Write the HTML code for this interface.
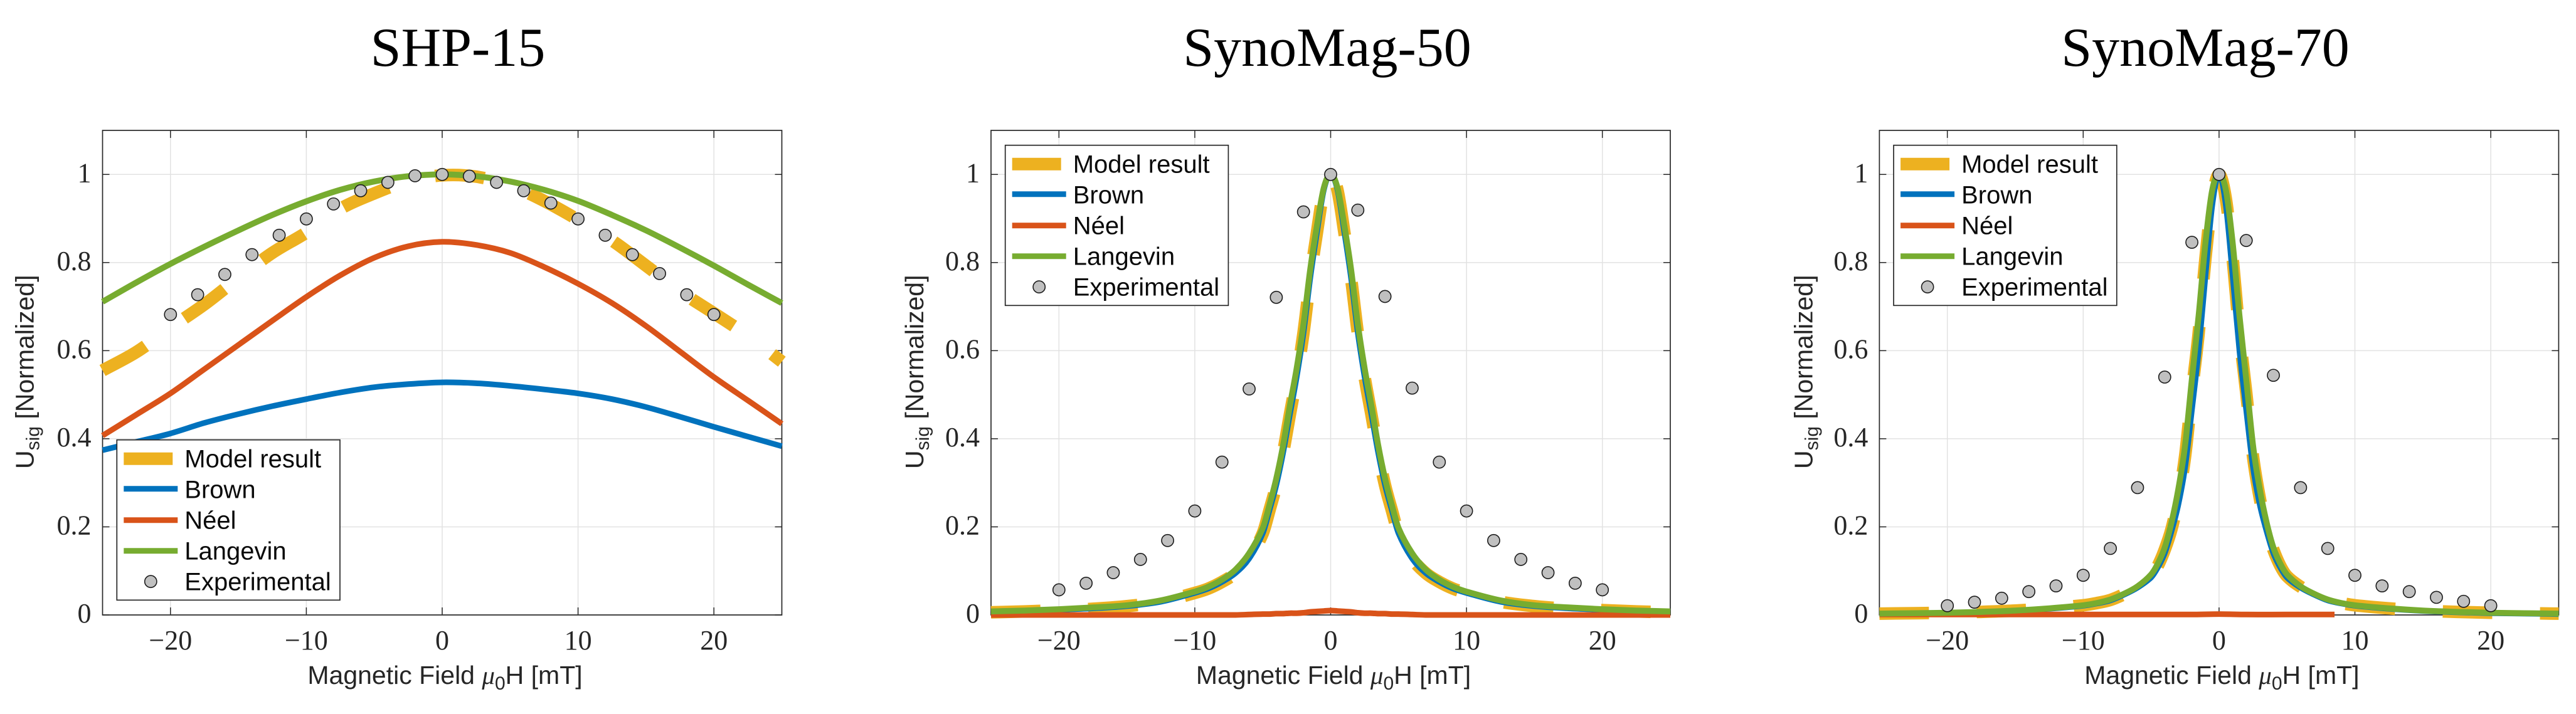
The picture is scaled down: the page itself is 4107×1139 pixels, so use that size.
<!DOCTYPE html>
<html lang="en">
<head>
<meta charset="utf-8">
<title>Normalized signal vs magnetic field: SHP-15, SynoMag-50, SynoMag-70</title>
<style>
  html, body { margin: 0; padding: 0; background: #fff; }
  svg { display: block; }
  .sans { font-family: "Liberation Sans", sans-serif; }
  .serif { font-family: "Liberation Serif", serif; }
</style>
</head>
<body>
<svg id="figure" xmlns="http://www.w3.org/2000/svg" width="4107" height="1139" viewBox="0 0 4107 1139"></svg>
<script>
// ---------- shared categories and ticks ----------
const xTickValues = [-20, -10, 0, 10, 20];
const xTickLabels = ['\u221220', '\u221210', '0', '10', '20'];
const yTickValues = [0, 0.2, 0.4, 0.6, 0.8, 1];
const yTickLabels = ['0', '0.2', '0.4', '0.6', '0.8', '1'];
const legendLabels = ['Model result', 'Brown', 'N\u00e9el', 'Langevin', 'Experimental'];

const fieldBroad = [-25,-22.5,-20,-17.5,-15,-12.5,-10,-7.5,-5,-2.5,0,2.5,5,7.5,10,12.5,15,17.5,20,22.5,25];
const fieldFine = [-25,-22.5,-20,-17.5,-15,-12.5,-10,-9,-8,-7,-6,-5,-4.5,-4,-3.5,-3,-2.5,-2,-1.5,-1,-0.5,0,0.5,1,1.5,2,2.5,3,3.5,4,4.5,5,6,7,8,9,10,12.5,15,17.5,20,22.5,25];
const fieldExperimental = [-20,-18,-16,-14,-12,-10,-8,-6,-4,-2,0,2,4,6,8,10,12,14,16,18,20];
const fieldNeel70 = [-25,-20,-15,-10,-5,-2,0,2,5,8.5];

// ---------- SHP-15 ----------
const shpModel = [.555,.597,.652,.705,.765,.822,.868,.922,.957,.985,.998,.995,.975,.94,.897,.85,.793,.735,.685,.634,.575];
const shpBrown = [.374,.393,.412,.436,.456,.474,.49,.505,.517,.524,.528,.526,.52,.512,.503,.49,.472,.45,.427,.405,.383];
const shpNeel = [.407,.455,.503,.558,.613,.668,.722,.771,.811,.837,.847,.84,.822,.79,.752,.708,.656,.598,.54,.487,.434];
const shpLangevin = [.711,.755,.797,.836,.873,.908,.939,.965,.984,.996,1,.996,.984,.965,.94,.908,.873,.834,.793,.75,.708];
const shpExperimental = [.682,.727,.773,.818,.862,.899,.933,.963,.982,.997,1,.996,.982,.963,.935,.899,.862,.818,.775,.727,.682];

// ---------- SynoMag-50 ----------
const syn50Model = [.006,.008,.011,.014,.020,.030,.050,.060,.075,.095,.128,.185,.238,.295,.368,.455,.540,.640,.765,.870,.965,1,.965,.870,.765,.640,.540,.455,.368,.295,.238,.185,.128,.095,.075,.060,.050,.030,.020,.014,.011,.008,.006];
const syn50Brown = [.007,.009,.012,.015,.020,.030,.050,.060,.075,.095,.128,.185,.238,.295,.368,.455,.540,.640,.765,.870,.965,1,.965,.870,.765,.640,.540,.455,.368,.295,.238,.185,.128,.095,.075,.060,.050,.030,.020,.015,.012,.009,.007];
const syn50Neel = [0,0,0,0,0,0,0,0,0,0,.001,.002,.002,.003,.003,.004,.004,.005,.007,.008,.009,.010,.009,.008,.007,.005,.004,.004,.003,.003,.002,.002,.001,0,0,0,0,0,0,0,0,0,0];
const syn50Langevin = [.008,.010,.013,.017,.022,.033,.053,.064,.080,.103,.140,.197,.250,.310,.385,.475,.560,.660,.785,.885,.970,1,.970,.885,.785,.660,.560,.475,.385,.310,.250,.197,.140,.103,.080,.064,.053,.033,.022,.017,.013,.010,.008];
const syn50Experimental = [.057,.072,.096,.126,.169,.236,.347,.513,.721,.915,1,.919,.723,.515,.347,.236,.169,.126,.096,.072,.057];

// ---------- SynoMag-70 ----------
const syn70Model = [.003,.004,.005,.007,.010,.015,.022,.027,.034,.047,.064,.088,.112,.148,.195,.265,.360,.505,.640,.810,.945,1,.945,.810,.640,.505,.360,.265,.195,.148,.112,.088,.064,.047,.034,.027,.022,.015,.010,.007,.005,.004,.003];
const syn70Brown = [.002,.003,.004,.006,.009,.014,.021,.026,.033,.046,.062,.085,.108,.140,.190,.250,.335,.465,.600,.770,.930,1,.930,.770,.600,.465,.335,.250,.190,.140,.108,.085,.062,.046,.033,.026,.021,.014,.009,.006,.004,.003,.002];
const syn70Neel = [.001,.001,.001,.001,.001,.001,.002,.001,.001,.001];
const syn70Langevin = [.003,.004,.005,.007,.010,.015,.022,.027,.035,.048,.065,.092,.117,.153,.210,.285,.385,.535,.680,.845,.965,1,.965,.845,.680,.535,.385,.285,.210,.153,.117,.092,.065,.048,.035,.027,.022,.015,.010,.007,.005,.004,.003];
const syn70Experimental = [.021,.029,.038,.053,.066,.090,.151,.289,.540,.846,1,.850,.544,.289,.151,.090,.066,.053,.040,.031,.021];

const SVGNS = 'http://www.w3.org/2000/svg';
const root = document.getElementById('figure');
const AXIS = '#262626', GRID = '#e2e2e2';
const YELLOW = '#EDB120', BLUE = '#0072BD', RED = '#D95319', GREEN = '#77AC30';

function mk(tag, attrs, parent) {
  const node = document.createElementNS(SVGNS, tag);
  for (const k in attrs) node.setAttribute(k, attrs[k]);
  parent.appendChild(node);
  return node;
}

function curvePath(xs, ys) {
  let d = 'M' + xs[0].toFixed(2) + ' ' + ys[0].toFixed(2);
  const n = xs.length;
  const slope = [];
  for (let i = 0; i < n; i++) {
    const a = Math.max(0, i - 1), b = Math.min(n - 1, i + 1);
    slope.push((ys[b] - ys[a]) / (xs[b] - xs[a]));
  }
  for (let i = 0; i < n - 1; i++) {
    const h = (xs[i + 1] - xs[i]) / 3;
    d += 'C' + (xs[i] + h).toFixed(2) + ' ' + (ys[i] + slope[i] * h).toFixed(2) + ' ' +
         (xs[i + 1] - h).toFixed(2) + ' ' + (ys[i + 1] - slope[i + 1] * h).toFixed(2) + ' ' +
         xs[i + 1].toFixed(2) + ' ' + ys[i + 1].toFixed(2);
  }
  return d;
}

function drawPanel(cfg) {
  const g = mk('g', {}, root);
  
  

  const left = cfg.left, width = 1083, top = 208, bottom = 981;
  const xMin = -25, xMax = 25, yMin = 0, yMax = 1.1;
  const xScale = v => left + (v - xMin) / (xMax - xMin) * width;
  const yScale = v => bottom - (v - yMin) / (yMax - yMin) * (bottom - top);

  const title = mk('text', { x: cfg.titleX, y: 105, 'text-anchor': 'middle', 'font-size': 88, fill: '#000', class: 'serif' }, g);
  
  
  title.textContent = cfg.title;

  xTickValues.forEach((v, i) => {
    const line = mk('line', { x1: xScale(v), x2: xScale(v), y1: top, y2: bottom, stroke: GRID, 'stroke-width': 1.5 }, g);
    
    
    const t1 = mk('line', { x1: xScale(v), x2: xScale(v), y1: top, y2: top + 12, stroke: AXIS, 'stroke-width': 1.5 }, g);
    
    
    const t2 = mk('line', { x1: xScale(v), x2: xScale(v), y1: bottom, y2: bottom - 12, stroke: AXIS, 'stroke-width': 1.5 }, g);
    
    
    const lab = mk('text', { x: xScale(v), y: 1036, 'text-anchor': 'middle', 'font-size': 44, fill: AXIS, class: 'serif' }, g);
    
    
    lab.textContent = xTickLabels[i];
  });

  yTickValues.forEach((v, i) => {
    const line = mk('line', { x1: left, x2: left + width, y1: yScale(v), y2: yScale(v), stroke: GRID, 'stroke-width': 1.5 }, g);
    
    
    const t1 = mk('line', { x1: left, x2: left + 11, y1: yScale(v), y2: yScale(v), stroke: AXIS, 'stroke-width': 1.5 }, g);
    
    
    const t2 = mk('line', { x1: left + width, x2: left + width - 11, y1: yScale(v), y2: yScale(v), stroke: AXIS, 'stroke-width': 1.5 }, g);
    
    
    const lab = mk('text', { x: left - 18, y: yScale(v) + 12, 'text-anchor': 'end', 'font-size': 44, fill: AXIS, class: 'serif' }, g);
    
    
    lab.textContent = yTickLabels[i];
  });

  const frame = mk('rect', { x: left, y: top, width: width, height: bottom - top, fill: 'none', stroke: AXIS, 'stroke-width': 1.7 }, g);
  
  

  const model = mk('path', { d: curvePath(cfg.field.map(xScale), cfg.model.map(yScale)), fill: 'none', stroke: YELLOW, 'stroke-width': 20, 'stroke-dasharray': '79 76' }, g);
  
  

  const brown = mk('path', { d: curvePath(cfg.field.map(xScale), cfg.brown.map(yScale)), fill: 'none', stroke: BLUE, 'stroke-width': 9 }, g);
  
  

  const neel = mk('path', { d: curvePath(cfg.neelField.map(xScale), cfg.neel.map(yScale)), fill: 'none', stroke: RED, 'stroke-width': 9 }, g);
  
  

  const langevin = mk('path', { d: curvePath(cfg.field.map(xScale), cfg.langevin.map(yScale)), fill: 'none', stroke: GREEN, 'stroke-width': 9.5 }, g);
  
  

  fieldExperimental.forEach((f, i) => {
    const c = mk('circle', { cx: xScale(f), cy: yScale(cfg.experimental[i]), r: 9.6, fill: '#C0C0C0', stroke: '#1c1c1c', 'stroke-width': 1.6 }, g);
    
    
  });

  // legend
  const lg = mk('g', { transform: 'translate(' + cfg.legendX + ' ' + cfg.legendY + ')' }, g);
  
  
  const box = mk('rect', { x: 0, y: 0, width: 355.7, height: 255.6, fill: '#fff', stroke: AXIS, 'stroke-width': 1.7 }, lg);
  
  
  const swatch = [
    { y: 30, c: YELLOW, w: 20, end: 89 },
    { y: 78, c: BLUE, w: 9, end: 97 },
    { y: 128, c: RED, w: 9, end: 97 },
    { y: 177, c: GREEN, w: 9, end: 97 }
  ];
  swatch.forEach(s => {
    const l = mk('line', { x1: 11, x2: s.end, y1: s.y, y2: s.y, stroke: s.c, 'stroke-width': s.w }, lg);
    
    
  });
  const lm = mk('circle', { cx: 54, cy: 226, r: 9.6, fill: '#C0C0C0', stroke: '#1c1c1c', 'stroke-width': 1.6 }, lg);
  
  
  [44, 93, 142, 191, 240].forEach((by, i) => {
    const t = mk('text', { x: 108, y: by, 'font-size': 40, fill: '#0a0a0a', class: 'sans' }, lg);
    
    
    t.textContent = legendLabels[i];
  });

  // x axis title
  const xt = mk('text', { x: left + 546, y: 1091, 'text-anchor': 'middle', 'font-size': 41, fill: AXIS, class: 'sans' }, g);
  
  
  mk('tspan', {}, xt).textContent = 'Magnetic Field ';
  mk('tspan', { 'font-family': '"Liberation Serif", serif', 'font-style': 'italic' }, xt).textContent = '\u03bc';
  mk('tspan', { 'font-size': 30, dy: 9 }, xt).textContent = '0';
  mk('tspan', { dy: -9 }, xt).textContent = 'H [mT]';

  // y axis title
  const yt = mk('text', { transform: 'translate(' + (left - cfg.yTitleGap) + ' 748) rotate(-90)', 'font-size': 41, fill: AXIS, class: 'sans' }, g);
  
  
  mk('tspan', {}, yt).textContent = 'U';
  mk('tspan', { 'font-size': 30, dy: 9 }, yt).textContent = 'sig';
  mk('tspan', { dy: -9 }, yt).textContent = ' [Normalized]';
}

drawPanel({
  name: 'shp-15', title: 'SHP-15', titleX: 730, left: 163.5, yTitleGap: 110,
  legendX: 186.3, legendY: 701.7,
  field: fieldBroad, neelField: fieldBroad,
  model: shpModel, brown: shpBrown, neel: shpNeel, langevin: shpLangevin, experimental: shpExperimental
});
drawPanel({
  name: 'synomag-50', title: 'SynoMag-50', titleX: 2116, left: 1580, yTitleGap: 108,
  legendX: 1602.7, legendY: 231.7,
  field: fieldFine, neelField: fieldFine,
  model: syn50Model, brown: syn50Brown, neel: syn50Neel, langevin: syn50Langevin, experimental: syn50Experimental
});
drawPanel({
  name: 'synomag-70', title: 'SynoMag-70', titleX: 3516, left: 2996.4, yTitleGap: 107,
  legendX: 3019.1, legendY: 231.7,
  field: fieldFine, neelField: fieldNeel70,
  model: syn70Model, brown: syn70Brown, neel: syn70Neel, langevin: syn70Langevin, experimental: syn70Experimental
});
</script>
</body>
</html>
